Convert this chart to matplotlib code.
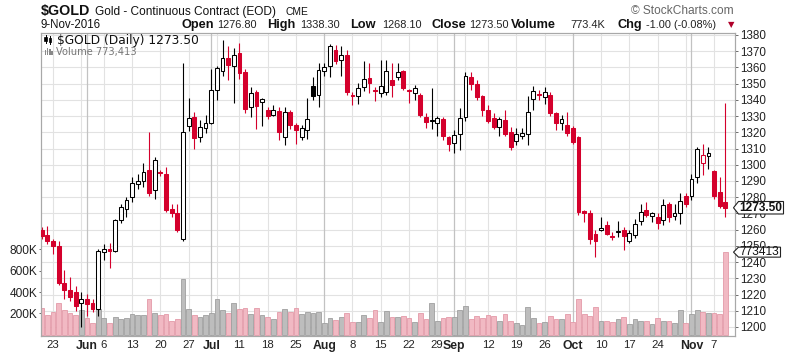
import matplotlib
matplotlib.use("Agg")
import matplotlib.pyplot as plt
import matplotlib.transforms as mtransforms
from matplotlib.lines import Line2D
from matplotlib.patches import Polygon, Rectangle
import numpy as np
import pandas as pd

plt.rcParams['font.family'] = ['Liberation Sans', 'DejaVu Sans']

# ---------------- data ----------------
HOLIDAYS = ["2016-05-30", "2016-07-04", "2016-09-05"]
dates = [d for d in pd.bdate_range("2016-05-19", "2016-11-09")
         if d.strftime("%Y-%m-%d") not in HOLIDAYS]

opens = [1260, 1257, 1253, 1250, 1227, 1222.5, 1221.5, 1215, 1217, 1215,
         1211, 1246.5, 1248.3, 1247, 1266, 1273, 1280, 1288, 1290, 1296.7,
         1284.3, 1295.5, 1294, 1273, 1270, 1254.5, 1323.8, 1329.6, 1317, 1322.4,
         1326, 1346, 1358, 1366, 1361, 1369, 1357.4, 1335.8, 1345, 1338.8,
         1334, 1330.6, 1333.3, 1317, 1332.7, 1324.4, 1316.8, 1321.4, 1348.5, 1343,
         1358, 1361, 1370.7, 1364.6, 1367.6, 1343, 1342.3, 1347.7, 1353.3, 1346,
         1344.4, 1345, 1352.2, 1354.3, 1358, 1346, 1344, 1343, 1329.2, 1326.8,
         1325.9, 1328, 1316.8, 1313.5, 1319, 1329.2, 1354.3, 1349.8, 1342.3, 1333.7,
         1329, 1323.4, 1327.5, 1320, 1314.8, 1317.7, 1318.9, 1340.3, 1343.6, 1342,
         1343, 1331.7, 1326, 1324.4, 1322.4, 1316.8, 1271.6, 1270.3, 1257.6, 1259.6,
         1262.7, 1256, 1258.5, 1260, 1253, 1256.5, 1265.4, 1272, 1268.5, 1267.9,
         1265.8, 1275.7, 1268.3, 1270.3, 1280.6, 1280.7, 1292.5, 1300.8, 1305.5, 1296.3,
         1283.3, 1276.8]
highs = [1261.5, 1262, 1254.5, 1253, 1235, 1231, 1225, 1221.5, 1220.5, 1217,
         1248, 1251.4, 1251.5, 1266.5, 1276, 1280, 1292.5, 1294.6, 1300.8, 1320.3,
         1304.5, 1296.5, 1298.7, 1276, 1276, 1363, 1341, 1332.7, 1327.5, 1330.6,
         1358.8, 1361, 1377, 1373, 1371.8, 1375, 1359, 1347.7, 1346, 1341,
         1335.8, 1336.8, 1335.8, 1335.8, 1333.7, 1325.5, 1324.4, 1341, 1354, 1362.5,
         1362.5, 1374.4, 1373.6, 1373.2, 1370.7, 1345, 1350.2, 1364, 1363, 1348,
         1364.6, 1364.6, 1362.5, 1362.5, 1358.4, 1346.5, 1349, 1344, 1331.7, 1347,
         1330, 1329.2, 1317.6, 1321.4, 1334.7, 1357.4, 1357.4, 1352.2, 1343, 1336.8,
         1332, 1329.6, 1333.7, 1323.4, 1322.4, 1322.4, 1342.3, 1348.5, 1346, 1348,
         1345, 1332.7, 1330.6, 1332.7, 1323.8, 1318, 1272, 1272, 1259.6, 1267.9,
         1265.4, 1258.6, 1265.4, 1261.7, 1259.6, 1266.8, 1276, 1277.2, 1271, 1270.3,
         1278.6, 1277.2, 1276, 1282.7, 1282.3, 1294.6, 1311, 1313, 1310.9, 1296.7,
         1292.5, 1338.3]
lows = [1254.5, 1251, 1245, 1226, 1217, 1216, 1210, 1200, 1207, 1209,
        1207, 1241, 1236.6, 1246, 1264, 1268, 1277, 1285, 1286.4, 1281,
        1279, 1293, 1271, 1268, 1258.6, 1253, 1321, 1310, 1314, 1319.3,
        1325, 1340, 1355, 1352, 1337.8, 1353, 1331.6, 1329.2, 1321.8, 1324,
        1328, 1330, 1315.2, 1312, 1322, 1312.7, 1315.2, 1316, 1340, 1335.8,
        1355, 1354.3, 1362, 1354.7, 1343, 1336.8, 1337.4, 1345.6, 1344, 1339.5,
        1342, 1343, 1342, 1352.2, 1346, 1338, 1340, 1329.2, 1322.4, 1321.8,
        1318, 1315, 1308.6, 1307, 1309, 1327, 1346, 1340, 1330, 1325.5,
        1322, 1317.7, 1317.7, 1309, 1312, 1316, 1312, 1334, 1340, 1337.4,
        1330, 1321.4, 1321.4, 1318, 1313, 1269, 1264.8, 1251, 1243.2, 1259.2,
        1256.5, 1253.5, 1255.5, 1247.3, 1251.8, 1255, 1262.7, 1267.9, 1264.8, 1260.7,
        1263, 1265, 1265.8, 1263.3, 1274, 1278, 1289, 1293.6, 1297.1, 1279,
        1273.2, 1268.1]
closes = [1256, 1253, 1250, 1227, 1223, 1218.5, 1213, 1217, 1214, 1211,
          1247, 1248.3, 1247, 1266, 1274, 1278, 1288.5, 1290, 1295.6, 1282.7,
          1302.8, 1294.8, 1272, 1270, 1260, 1320.3, 1329, 1316.2, 1323.4, 1326,
          1346, 1359.5, 1366, 1361.5, 1367.6, 1356.3, 1334.3, 1344.4, 1336, 1340.4,
          1330, 1333.7, 1320.3, 1332.7, 1324.4, 1321.4, 1322.4, 1328, 1342.3, 1358.4,
          1360, 1373, 1364, 1367.6, 1345, 1342.5, 1347, 1352.6, 1350.2, 1345.4,
          1348.5, 1358, 1349.1, 1357.4, 1347, 1345.5, 1347, 1330.6, 1326.5, 1327.3,
          1328.6, 1317.6, 1312.7, 1318.3, 1328.6, 1354.7, 1349.8, 1342, 1334, 1327,
          1323.5, 1328, 1318.9, 1311, 1319, 1319.7, 1332.7, 1345.6, 1343, 1345,
          1331.7, 1325.5, 1328, 1319.3, 1314.2, 1271, 1270, 1254.5, 1253, 1261.3,
          1257.2, 1255.5, 1259, 1256, 1258, 1263.7, 1271, 1269, 1270, 1264.2,
          1275, 1267.9, 1270.3, 1277.8, 1276, 1291.5, 1310, 1305.9, 1307.5, 1280.6,
          1274.5, 1273.5]
volumes_k = [253, 184, 209, 294, 231, 200, 184, 231, 153, 112,
             237, 153, 112, 162, 144, 153, 194, 184, 181, 334,
             206, 184, 190, 131, 144, 525, 237, 181, 162, 184,
             206, 331, 228, 206, 294, 244, 247, 194, 247, 184,
             162, 144, 216, 237, 216, 247, 194, 216, 200, 216,
             106, 153, 137, 162, 206, 122, 119, 184, 153, 228,
             119, 219, 169, 162, 175, 156, 119, 206, 144, 294,
             131, 153, 162, 162, 231, 269, 144, 175, 156, 184,
             175, 131, 194, 131, 112, 91, 256, 153, 112, 122,
             175, 144, 144, 197, 122, 334, 194, 175, 259, 131,
             131, 122, 144, 162, 100, 144, 131, 131, 100, 153,
             131, 131, 112, 228, 112, 194, 228, 216, 206, 206,
             194, 773.413]

price_ticks = list(range(1200, 1381, 10))
vol_ticks = [200, 400, 600, 800]
vol_tick_labels = ["200K", "400K", "600K", "800K"]
xtick_dates = ["2016-05-23", "2016-06-01", "2016-06-06", "2016-06-13", "2016-06-20",
               "2016-06-27", "2016-07-01", "2016-07-11", "2016-07-18", "2016-07-25",
               "2016-08-01", "2016-08-08", "2016-08-15", "2016-08-22", "2016-08-29",
               "2016-09-01", "2016-09-12", "2016-09-19", "2016-09-26", "2016-10-03",
               "2016-10-10", "2016-10-17", "2016-10-24", "2016-11-01", "2016-11-07"]
xtick_labels = ["23", "Jun", "6", "13", "20", "27", "Jul", "11", "18", "25", "Aug",
                "8", "15", "22", "29", "Sep", "12", "19", "26", "Oct", "10", "17",
                "24", "Nov", "7"]
month_names = {"Jun", "Jul", "Aug", "Sep", "Oct", "Nov"}

# ---------------- figure ----------------
W, H = 800, 355
fig = plt.figure(figsize=(W / 100, H / 100), dpi=100)
L, R, T, B = 40.7, 735, 33, 336
axv = fig.add_axes([L / W, 1 - B / H, (R - L) / W, (B - T) / H])
axp = axv.twinx()
axp.patch.set_visible(False)

n = len(dates)
x = np.arange(n)
o = np.array(opens, float); c = np.array(closes, float)
hi = np.array(highs, float); lo = np.array(lows, float)
up = np.r_[False, c[1:] >= c[:-1]]

RED = "#d4002c"
PINK_FACE, PINK_EDGE = "#f1b9c3", "#e39aa8"
GRAY_FACE, GRAY_EDGE = "#bdbdbd", "#9f9f9f"

axv.set_xlim(-0.18, 122.7)
axv.set_ylim(-12, 2826)
axp.set_ylim(1194.45, 1381.2)

# gridlines (drawn in the bottom axes so they sit beneath everything)
gl_trans = mtransforms.blended_transform_factory(axv.transAxes, axp.transData)
for p in price_ticks:
    axv.add_line(Line2D([0, 1], [p, p], transform=gl_trans, color="#e2e2e2",
                        lw=0.8, zorder=0))
for i in range(1, n):
    new_month = dates[i].month != dates[i - 1].month
    new_week = dates[i].isocalendar()[1] != dates[i - 1].isocalendar()[1]
    if new_month:
        axv.axvline(i, color="#c2c2c2", lw=0.9, zorder=0.5)
    elif new_week:
        axv.axvline(i, color="#e2e2e2", lw=0.8, zorder=0.4)

# volume bars
vf = [GRAY_FACE if u else PINK_FACE for u in up]
ve = [GRAY_EDGE if u else PINK_EDGE for u in up]
axv.bar(x, volumes_k, width=0.84, color=vf, edgecolor=ve, linewidth=0.6, zorder=2)

# candles
cols = ["black" if u else RED for u in up]
faces = ["white" if cc >= oo else col for cc, oo, col in zip(c, o, cols)]
axp.vlines(x, lo, hi, colors=cols, linewidth=0.8, zorder=2)
bottoms = np.minimum(o, c)
heights = np.maximum(np.abs(c - o), 0.5)
axp.bar(x, heights, bottom=bottoms, width=0.68, color=faces, edgecolor=cols,
        linewidth=0.75, zorder=3)

# axes styling
for ax in (axv, axp):
    for s in ax.spines.values():
        s.set_color("#a8a8a8")
        s.set_linewidth(0.8)

axp.set_yticks(price_ticks)
axp.set_yticklabels([str(p) for p in price_ticks])
axp.tick_params(axis="y", right=True, left=False, labelright=True, labelleft=False,
                length=2.5, width=0.6, color="#555555", pad=1.5, labelsize=8.4,
                labelcolor="#222222")
axv.set_yticks(vol_ticks)
axv.set_yticklabels(vol_tick_labels)
axv.tick_params(axis="y", left=True, right=False, labelleft=True, length=1.5,
                width=0.6, color="#555555", pad=1.0, labelsize=8.6, labelcolor="#222222")

xt = [dates.index(pd.Timestamp(d)) for d in xtick_dates]
axv.set_xticks(xt)
axv.set_xticklabels(xtick_labels)
axv.tick_params(axis="x", length=0, pad=3.2, labelsize=8.2, labelcolor="#222222")
for lab in axv.get_xticklabels():
    if lab.get_text() in month_names:
        lab.set_fontweight("bold")
        lab.set_fontsize(8.8)
axp.xaxis.set_visible(False)


# ---------------- header texts ----------------
def ftext(xp, yp, s, **kw):
    return fig.text(xp / W, 1 - yp / H, s, va="baseline", **kw)


ftext(40.5, 15.5, "$GOLD", fontsize=10.3, fontweight="bold", color="#111111")
ftext(95, 15, "Gold - Continuous Contract (EOD)", fontsize=8.6, color="#111111")
ftext(285, 15, "CME", fontsize=7.4, color="#111111")
ftext(734, 14, "\u00a9 StockCharts.com", fontsize=8.6, color="#666666", ha="right")

ftext(40.5, 28.3, "9-Nov-2016", fontsize=8.3, color="#111111")
pieces = [(181, "Open", True), (217, "1276.80", False), (267, "High", True),
          (300, "1338.30", False), (350, "Low", True), (382, "1268.10", False),
          (432, "Close", True), (469, "1273.50", False), (511, "Volume", True),
          (570, "773.4K", False), (618, "Chg", True), (646, "-1.00 (-0.08%)", False)]
for xp, s, bold in pieces:
    if bold:
        ftext(xp, 28.3, s, fontsize=9.2, fontweight="bold", color="#111111")
    else:
        ftext(xp, 28.3, s, fontsize=7.9, color="#222222")
ftext(731, 27.5, "\u25bc", fontsize=6, color="#b0002a", ha="center",
      family=["DejaVu Sans"])

# legend inside plot
ftext(57, 44, "$GOLD (Daily) 1273.50", fontsize=8.8, color="#111111",
      family=["DejaVu Sans"])
ftext(56, 55, "Volume 773,413", fontsize=7.1, color="#777777",
      family=["DejaVu Sans"])


def frect(xp, yp, w, h, **kw):
    fig.add_artist(Rectangle((xp / W, 1 - (yp + h) / H), w / W, h / H,
                             transform=fig.transFigure, **kw))


def fline(x0, y0, x1, y1, **kw):
    fig.add_artist(Line2D([x0 / W, x1 / W], [1 - y0 / H, 1 - y1 / H],
                          transform=fig.transFigure, **kw))


# tiny candle icon
fline(45.5, 35, 45.5, 43, color="black", lw=0.7)
frect(44.3, 37, 2.4, 4, facecolor="black", edgecolor="black", lw=0.5)
fline(50, 35.5, 50, 43.5, color="black", lw=0.7)
frect(48.8, 38, 2.4, 3.5, facecolor="white", edgecolor="black", lw=0.6)
# tiny volume icon
for k, hh in enumerate([5, 7, 6, 4]):
    frect(44.5 + k * 2.2, 55 - hh, 1.7, hh, facecolor="#888888", edgecolor="none")

# ---------------- last value markers ----------------
fig.canvas.draw()
bt_p = mtransforms.blended_transform_factory(axp.transAxes, axp.transData)
bt_v = mtransforms.blended_transform_factory(axv.transAxes, axv.transData)


def marker(trans, yval, text, bold, width, height):
    x0, y0 = trans.transform((1, yval))
    x0 -= 1.5
    pts = [(x0, y0), (x0 + 5, y0 + height / 2), (x0 + width, y0 + height / 2),
           (x0 + width, y0 - height / 2), (x0 + 5, y0 - height / 2)]
    fig.add_artist(Polygon(pts, closed=True, transform=None, facecolor="white",
                           edgecolor="#222222", lw=0.8, zorder=5))
    fig.text(x0 + 4 + (width - 4) / 2, y0, text, transform=None, ha="center",
             va="center", fontsize=8.6, fontweight="bold" if bold else "normal",
             color="#111111", zorder=6)


marker(bt_p, closes[-1], "1273.50", True, 50, 12.5)
marker(bt_v, volumes_k[-1], "773413", False, 47, 10)

fig.savefig("out.png", dpi=100)
